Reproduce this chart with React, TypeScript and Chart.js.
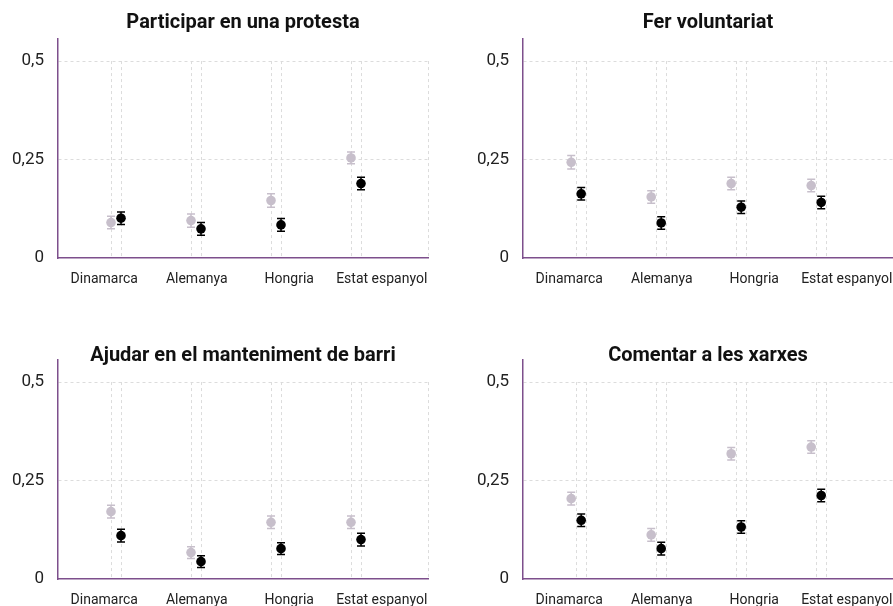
import React, { useEffect, useRef } from "react";
import { Chart, registerables } from "chart.js";

Chart.register(...registerables);

// ---------- data ----------
const categories = ["Dinamarca", "Alemanya", "Hongria", "Estat espanyol"];
const yTickValues = [0, 0.25, 0.5];

const protestaTitle = "Participar en una protesta";
const protestaGrey = [0.09, 0.095, 0.146, 0.254];
const protestaBlack = [0.101, 0.074, 0.084, 0.189];
const protestaGreyErr = [0.016, 0.017, 0.017, 0.015];
const protestaBlackErr = [0.016, 0.016, 0.016, 0.016];

const voluntariatTitle = "Fer voluntariat";
const voluntariatGrey = [0.243, 0.155, 0.189, 0.184];
const voluntariatBlack = [0.163, 0.089, 0.129, 0.141];
const voluntariatGreyErr = [0.017, 0.016, 0.016, 0.016];
const voluntariatBlackErr = [0.016, 0.016, 0.016, 0.016];

const barriTitle = "Ajudar en el manteniment de barri";
const barriGrey = [0.171, 0.067, 0.144, 0.144];
const barriBlack = [0.11, 0.044, 0.077, 0.1];
const barriGreyErr = [0.016, 0.015, 0.016, 0.016];
const barriBlackErr = [0.016, 0.015, 0.015, 0.016];

const xarxesTitle = "Comentar a les xarxes";
const xarxesGrey = [0.204, 0.112, 0.318, 0.335];
const xarxesBlack = [0.149, 0.077, 0.132, 0.212];
const xarxesGreyErr = [0.016, 0.016, 0.016, 0.016];
const xarxesBlackErr = [0.016, 0.016, 0.016, 0.016];

// ---------- styling ----------
const FONT = "Roboto, 'DejaVu Sans', sans-serif";
const GREY = "#c7bfcb";
const BLACK = "#000000";
const PURPLE = "#7d4f8c";
const GRID = "#dcdcdc";
const DODGE = 0.0625;
const X_MIN = -0.725;
const X_MAX = 3.9;
const Y_MAX = 0.556;
const GRID_TOP = 0.5;

const gridPlugin = {
  id: "dodgeGrid",
  beforeDatasetsDraw(chart: any) {
    const { ctx, chartArea } = chart;
    const xs = chart.scales.x;
    const ys = chart.scales.y;
    const top = ys.getPixelForValue(GRID_TOP);
    const bottom = ys.getPixelForValue(0);
    const positions: number[] = [];
    categories.forEach((_, i) => {
      positions.push(xs.getPixelForValue(i - DODGE));
      positions.push(xs.getPixelForValue(i + DODGE));
    });
    positions.push(chartArea.right);
    ctx.save();
    ctx.strokeStyle = GRID;
    ctx.lineWidth = 1;
    ctx.setLineDash([3, 3]);
    positions.forEach((px) => {
      const x = Math.round(px) + 0.5;
      ctx.beginPath();
      ctx.moveTo(x, top);
      ctx.lineTo(x, bottom);
      ctx.stroke();
    });
    ctx.restore();
  },
};

const errorBarPlugin = {
  id: "errorBars",
  beforeDatasetsDraw(chart: any) {
    const { ctx } = chart;
    const ys = chart.scales.y;
    chart.data.datasets.forEach((ds: any, di: number) => {
      const meta = chart.getDatasetMeta(di);
      ctx.save();
      ctx.strokeStyle = ds.backgroundColor;
      ctx.lineWidth = 1.5;
      ctx.setLineDash([]);
      meta.data.forEach((el: any, i: number) => {
        const v = ds.data[i].y;
        const e = ds.errors[i];
        const y1 = ys.getPixelForValue(v - e);
        const y2 = ys.getPixelForValue(v + e);
        const x = el.x;
        ctx.beginPath();
        ctx.moveTo(x, y1);
        ctx.lineTo(x, y2);
        ctx.moveTo(x - 4, y1);
        ctx.lineTo(x + 4, y1);
        ctx.moveTo(x - 4, y2);
        ctx.lineTo(x + 4, y2);
        ctx.stroke();
      });
      ctx.restore();
    });
  },
};

type PanelProps = {
  title: string;
  grey: number[];
  black: number[];
  greyErr: number[];
  blackErr: number[];
  shift: number;
  left: number;
  top: number;
  width: number;
  height: number;
  titlePadTop: number;
  titlePadBottom: number;
};

function Panel(p: PanelProps) {
  const ref = useRef<HTMLCanvasElement | null>(null);
  useEffect(() => {
    if (!ref.current) return;
    const chart = new Chart(ref.current, {
      type: "scatter",
      data: {
        datasets: [
          {
            label: "grey",
            data: categories.map((_, i) => ({ x: i - DODGE + p.shift, y: p.grey[i] })),
            errors: p.greyErr,
            backgroundColor: GREY,
            borderColor: GREY,
            borderWidth: 0,
            pointRadius: 4.8,
            pointHoverRadius: 4.8,
          } as any,
          {
            label: "black",
            data: categories.map((_, i) => ({ x: i + DODGE + p.shift, y: p.black[i] })),
            errors: p.blackErr,
            backgroundColor: BLACK,
            borderColor: BLACK,
            borderWidth: 0,
            pointRadius: 4.8,
            pointHoverRadius: 4.8,
          } as any,
        ],
      },
      options: {
        responsive: false,
        animation: false,
        devicePixelRatio: 1,
        layout: { padding: { left: 0, right: 12, top: 0, bottom: 0 } },
        plugins: {
          legend: { display: false },
          tooltip: { enabled: false },
          title: {
            display: true,
            text: p.title,
            fullSize: false,
            color: "#111",
            font: { family: FONT, size: 20, weight: "bold", lineHeight: 1.2 },
            padding: { top: p.titlePadTop, bottom: p.titlePadBottom },
          },
        },
        scales: {
          x: {
            type: "linear",
            min: X_MIN,
            max: X_MAX,
            display: false,
          },
          xl: {
            type: "category",
            labels: categories,
            position: "bottom",
            offset: true,
            grid: { display: false, drawTicks: false },
            border: { display: true, color: PURPLE, width: 1.5 },
            ticks: {
              color: "#222",
              padding: 13,
              maxRotation: 0,
              autoSkip: false,
              font: { family: FONT, size: 14 },
            },
            afterFit: (s: any) => {
              s.height = 40;
              s.paddingLeft = 0;
              s.paddingRight = 0;
            },
          },
          y: {
            type: "linear",
            min: 0,
            max: Y_MAX,
            afterBuildTicks: (s: any) => {
              s.ticks = yTickValues.map((v) => ({ value: v }));
            },
            afterFit: (s: any) => {
              s.width = 58;
              s.paddingTop = 0;
              s.paddingBottom = 0;
            },
            grid: {
              drawTicks: false,
              color: (c: any) => (c.tick && c.tick.value === 0 ? "rgba(0,0,0,0)" : GRID),
              lineWidth: 1,
            },
            border: { display: true, color: PURPLE, width: 1.5, dash: [3, 3] },
            ticks: {
              color: "#222",
              padding: 14,
              font: { family: FONT, size: 17 },
              callback: (v: any) => String(v).replace(".", ","),
            },
          },
        },
      } as any,
      plugins: [gridPlugin, errorBarPlugin],
    });
    return () => chart.destroy();
  }, []);
  return (
    <canvas
      ref={ref}
      width={p.width}
      height={p.height}
      style={{ position: "absolute", left: p.left, top: p.top, width: p.width, height: p.height }}
    />
  );
}

export default function App() {
  return (
    <div
      style={{
        position: "fixed",
        left: 0,
        top: 0,
        width: 893,
        height: 606,
        overflow: "hidden",
        background: "#fff",
      }}
    >
      <Panel title={protestaTitle} grey={protestaGrey} black={protestaBlack} greyErr={protestaGreyErr} blackErr={protestaBlackErr}
        shift={0} left={0} top={0} width={440} height={298} titlePadTop={10.5} titlePadBottom={4.5} />
      <Panel title={voluntariatTitle} grey={voluntariatGrey} black={voluntariatBlack} greyErr={voluntariatGreyErr} blackErr={voluntariatBlackErr}
        shift={-0.06} left={465} top={0} width={440} height={298} titlePadTop={10.5} titlePadBottom={4.5} />
      <Panel title={barriTitle} grey={barriGrey} black={barriBlack} greyErr={barriGreyErr} blackErr={barriBlackErr}
        shift={0} left={0} top={310} width={440} height={309} titlePadTop={34} titlePadBottom={-8} />
      <Panel title={xarxesTitle} grey={xarxesGrey} black={xarxesBlack} greyErr={xarxesGreyErr} blackErr={xarxesBlackErr}
        shift={-0.06} left={465} top={310} width={440} height={309} titlePadTop={34} titlePadBottom={-8} />
    </div>
  );
}
